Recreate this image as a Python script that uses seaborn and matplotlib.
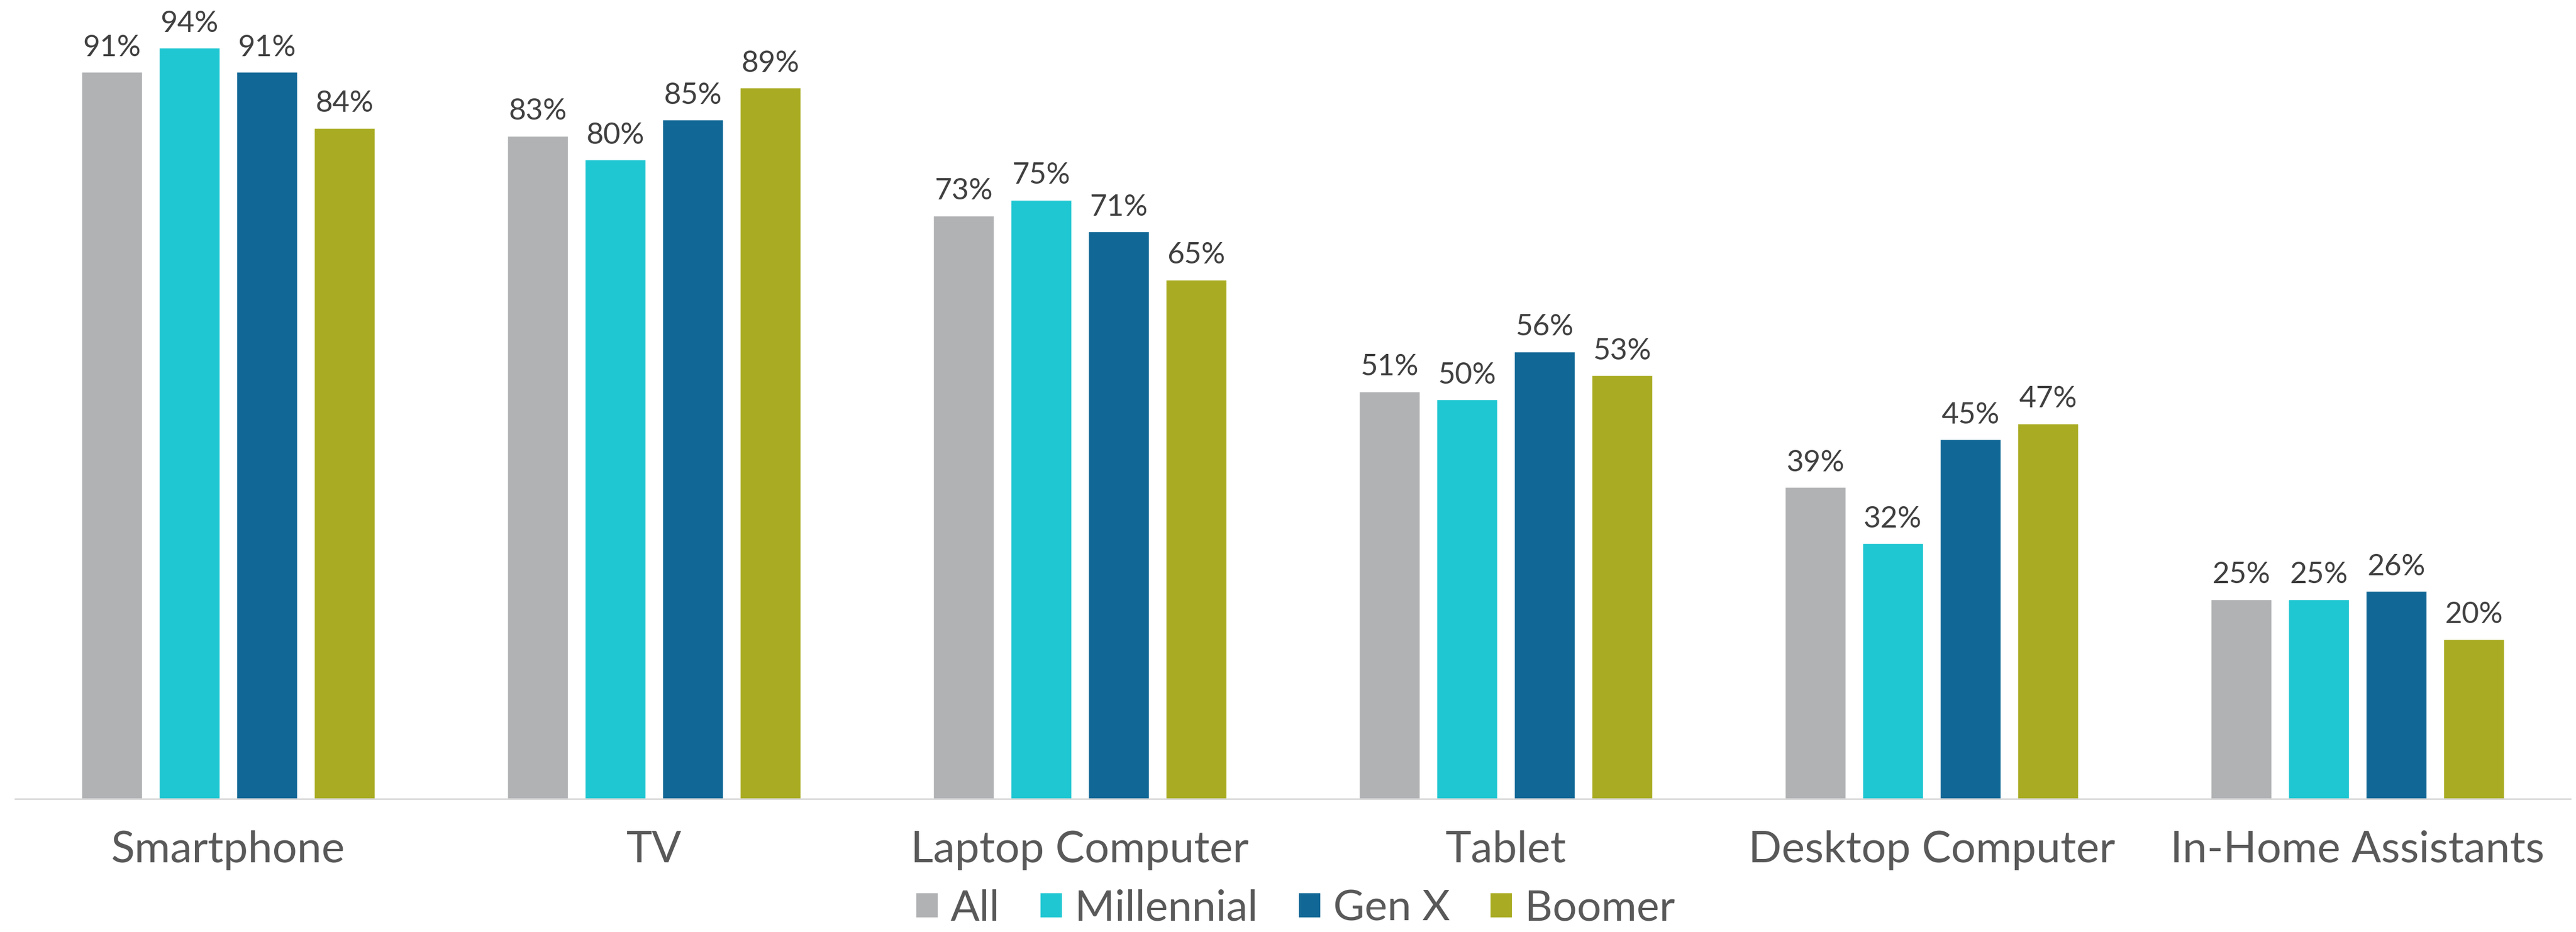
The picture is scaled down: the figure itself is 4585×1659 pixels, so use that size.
import numpy as np
import pandas as pd
import matplotlib
matplotlib.use("Agg")
import matplotlib.pyplot as plt
from matplotlib.patches import Patch
import seaborn as sns

# Device ownership by generation (share of respondents, %)
categories = ["Smartphone", "TV", "Laptop Computer", "Tablet",
              "Desktop Computer", "In-Home Assistants"]
groups = ["All", "Millennial", "Gen X", "Boomer"]
all_vals = [91, 83, 73, 51, 39, 25]
millennial_vals = [94, 80, 75, 50, 32, 25]
genx_vals = [91, 85, 71, 56, 45, 26]
boomer_vals = [84, 89, 65, 53, 47, 20]
colors = ["#B1B2B4", "#1FC7D2", "#116896", "#A9AC22"]

series = [all_vals, millennial_vals, genx_vals, boomer_vals]
df = pd.DataFrame({
    "device": np.tile(categories, len(groups)),
    "group": np.repeat(groups, len(categories)),
    "share": np.concatenate(series) / 100.0,
})

sns.set_theme(style="white")
plt.rcParams["font.family"] = ["Lato", "DejaVu Sans"]

W, H, DPI = 4585, 1659, 100
fig = plt.figure(figsize=(W / DPI, H / DPI), dpi=DPI)
ax = fig.add_axes([27 / W, 1 - 1422 / H, (4575 - 27) / W, 1422 / H])

sns.barplot(data=df, x="device", y="share", hue="group",
            order=categories, hue_order=groups, palette=colors,
            width=0.728, gap=0.22, saturation=1, errorbar=None,
            legend=False, ax=ax)

for cont in ax.containers:
    ax.bar_label(cont, labels=[f"{v * 100:.0f}%" for v in cont.datavalues],
                 padding=14, fontsize=38, color="#404040")

ax.set_xlim(-0.5, 5.5)
ax.set_ylim(0, 1.0)
ax.set_xlabel("")
ax.set_ylabel("")
ax.set_yticks([])
ax.tick_params(axis="x", length=0, pad=40, labelsize=56, labelcolor="#595959")
for side in ["top", "left", "right"]:
    ax.spines[side].set_visible(False)
ax.spines["bottom"].set_color("#D9D9D9")
ax.spines["bottom"].set_linewidth(2.0)

handles = [Patch(facecolor=c, edgecolor="none", label=g) for g, c in zip(groups, colors)]
fig.legend(handles=handles, loc="lower center", bbox_to_anchor=(0.503, -0.014),
           ncol=4, frameon=False, fontsize=55, labelcolor="#595959",
           handlelength=0.5, handleheight=0.5, handletextpad=0.3,
           columnspacing=0.95, borderaxespad=0)

fig.savefig("out.png", dpi=DPI)
